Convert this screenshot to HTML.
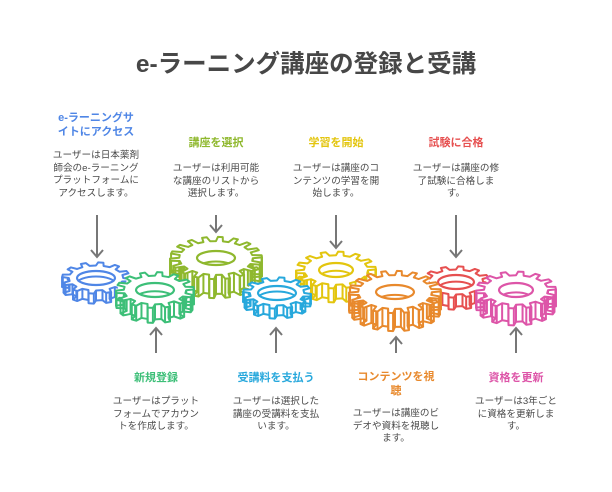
<!DOCTYPE html>
<html><head><meta charset="utf-8">
<style>
html,body{margin:0;padding:0;background:#fff;}
body{width:612px;height:492px;position:relative;overflow:hidden;font-family:"Liberation Sans","Noto Sans CJK JP",sans-serif;}
.t{position:absolute;text-align:center;white-space:nowrap;}
.h{font-weight:bold;font-size:11px;line-height:14px;}
.d{font-size:9.6px;line-height:12.5px;color:#4a4a4a;}
#title{position:absolute;left:0;width:612px;top:50px;text-align:center;font-size:24.5px;font-weight:bold;color:#474747;line-height:30px;font-family:"Liberation Sans","Noto Sans CJK JP",sans-serif;}
svg{position:absolute;left:0;top:0;}
</style></head><body>
<svg id="g" width="612" height="492" viewBox="0 0 612 492" xmlns="http://www.w3.org/2000/svg"></svg>
<div id="title">e-ラーニング講座の登録と受講</div>

<div class="t h" style="left:36px;width:120px;top:111px;color:#4f86e6;">e-ラーニングサ<br>イトにアクセス</div>
<div class="t d" style="left:36px;width:120px;top:150px;">ユーザーは日本薬剤<br>師会のe-ラーニング<br>プラットフォームに<br>アクセスします。</div>

<div class="t h" style="left:156px;width:120px;top:136px;color:#8fb82e;">講座を選択</div>
<div class="t d" style="left:156px;width:120px;top:163px;">ユーザーは利用可能<br>な講座のリストから<br>選択します。</div>

<div class="t h" style="left:276px;width:120px;top:136px;color:#e3c50e;">学習を開始</div>
<div class="t d" style="left:276px;width:120px;top:163px;">ユーザーは講座のコ<br>ンテンツの学習を開<br>始します。</div>

<div class="t h" style="left:396px;width:120px;top:136px;color:#e65050;">試験に合格</div>
<div class="t d" style="left:396px;width:120px;top:163px;">ユーザーは講座の修<br>了試験に合格しま<br>す。</div>

<div class="t h" style="left:96px;width:120px;top:371px;color:#3dbf78;">新規登録</div>
<div class="t d" style="left:96px;width:120px;top:396px;">ユーザーはプラット<br>フォームでアカウン<br>トを作成します。</div>

<div class="t h" style="left:216px;width:120px;top:371px;color:#27a8dc;">受講料を支払う</div>
<div class="t d" style="left:216px;width:120px;top:396px;">ユーザーは選択した<br>講座の受講料を支払<br>います。</div>

<div class="t h" style="left:336px;width:120px;top:370px;color:#e8892c;">コンテンツを視<br>聴</div>
<div class="t d" style="left:336px;width:120px;top:408px;">ユーザーは講座のビ<br>デオや資料を視聴し<br>ます。</div>

<div class="t h" style="left:456px;width:120px;top:371px;color:#dd55a8;">資格を更新</div>
<div class="t d" style="left:456px;width:120px;top:396px;">ユーザーは3年ごと<br>に資格を更新しま<br>す。</div>

<script>
(function(){
var NS="http://www.w3.org/2000/svg";
var svg=document.getElementById('g');
function el(n,a,p){var e=document.createElementNS(NS,n);for(var k in a)e.setAttribute(k,a[k]);(p||svg).appendChild(e);return e;}
var K=0.46;
var gears=[
 {cx:216,cy:258,R:46,N:18,d:19,hr:19,c:"#8fb82e"},
 {cx:336,cy:270,R:40,N:14,d:14,hr:17,c:"#e3c50e"},
 {cx:96,cy:278,R:34,N:12,d:10,hr:19,c:"#4f86e6"},
 {cx:456,cy:282,R:34,N:12,d:12,hr:18,c:"#e65050"},
 {cx:155,cy:290,R:39,N:14,d:15,hr:19,c:"#3dbf78"},
 {cx:516,cy:290,R:40,N:14,d:17,hr:17,c:"#dd55a8"},
 {cx:395,cy:292,R:46,N:18,d:18,hr:19,c:"#e8892c"},
 {cx:277,cy:293,R:34,N:12,d:10,hr:19,c:"#27a8dc"}
];
var defs=el('defs',{});
gears.forEach(function(g,gi){
 var r0=g.R*0.8, p=2*Math.PI/g.N, pts=[];
 for(var i=0;i<g.N;i++){
  var a=i*p-Math.PI/2;
  var seq=[[r0,a],[g.R,a+0.12*p],[g.R,a+0.42*p],[r0,a+0.54*p]];
  seq.forEach(function(s){pts.push([g.cx+s[0]*Math.cos(s[1]),g.cy+s[0]*Math.sin(s[1])*K,Math.sin(s[1])]);});
 }
 function ps(dy){return pts.map(function(q){return q[0].toFixed(2)+","+(q[1]+dy).toFixed(2);}).join(" ");}
 var grp=el('g',{});
 for(var j=g.d;j>0;j-=1){el('polygon',{points:ps(j),fill:"#fff",stroke:"none"},grp);}
 el('polygon',{points:ps(g.d),fill:"#fff",stroke:g.c,"stroke-width":2,"stroke-linejoin":"round"},grp);
 pts.forEach(function(q){ if(q[2]>-0.25){el('line',{x1:q[0],y1:q[1],x2:q[0],y2:q[1]+g.d,stroke:g.c,"stroke-width":2},grp);} });
 el('polygon',{points:ps(0),fill:"#fff",stroke:g.c,"stroke-width":2,"stroke-linejoin":"round"},grp);
 var cp=el('clipPath',{id:"c"+gi},defs);
 el('ellipse',{cx:g.cx,cy:g.cy,rx:g.hr,ry:7},cp);
 el('ellipse',{cx:g.cx,cy:g.cy+g.d*0.55,rx:g.hr,ry:7,fill:"none",stroke:g.c,"stroke-width":2,"clip-path":"url(#c"+gi+")"},grp);
 el('ellipse',{cx:g.cx,cy:g.cy,rx:g.hr,ry:7,fill:"none",stroke:g.c,"stroke-width":2.2},grp);
});
var AC="#777";
function down(x,y1,y2){el('line',{x1:x,y1:y1,x2:x,y2:y2,stroke:AC,"stroke-width":2});el('polyline',{points:(x-6)+","+(y2-7)+" "+x+","+y2+" "+(x+6)+","+(y2-7),fill:"none",stroke:AC,"stroke-width":2});}
function up(x,y1,y2){el('line',{x1:x,y1:y1,x2:x,y2:y2,stroke:AC,"stroke-width":2});el('polyline',{points:(x-6)+","+(y1+7)+" "+x+","+y1+" "+(x+6)+","+(y1+7),fill:"none",stroke:AC,"stroke-width":2});}
down(97,215,257);down(216,215,232);down(336,215,248);down(456,215,257);
up(156,328,353);up(276,328,353);up(396,337,353);up(516,328,353);
})();
</script>
</body></html>
